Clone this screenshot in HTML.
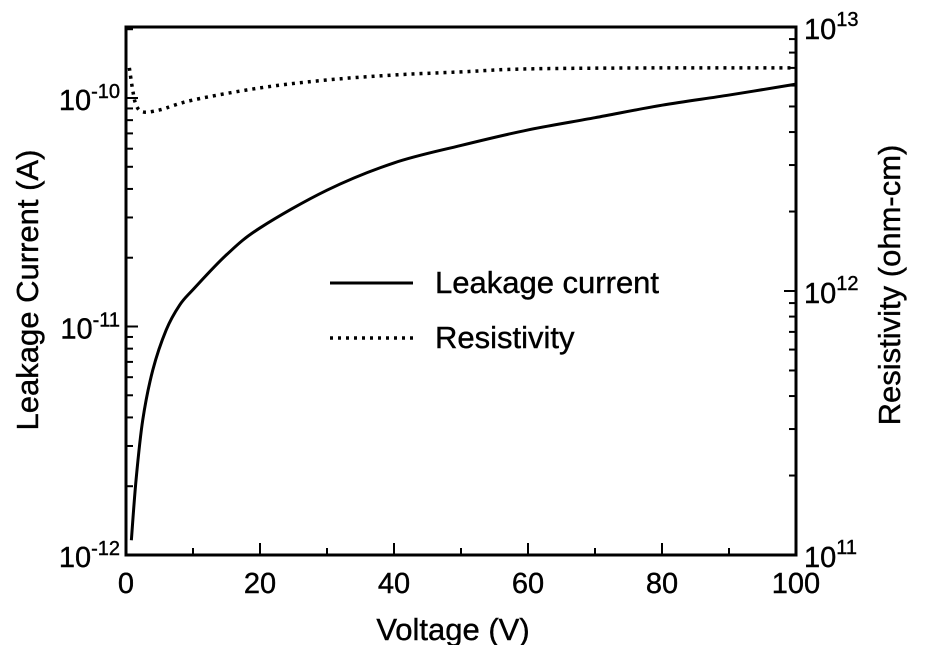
<!DOCTYPE html>
<html><head><meta charset="utf-8"><style>
body{margin:0;background:#fff}
svg{display:block;font-family:"Liberation Sans",Arial,sans-serif}
</style></head><body>
<svg id="chart" width="949" height="645">
<g id="marks"></g>
<g id="axes" stroke="#000" stroke-width="3" fill="none"></g>
<g id="labels" font-size="29" fill="#000" stroke="#000" stroke-width="0.4"></g>
</svg>
<script>
const voltage=[0.8,1.5,2.5,4,6,8,10,15,20,30,40,50,60,70,80,90,100];
const leakage=[1.16e-12,2.13e-12,3.9e-12,6.45e-12,9.66e-12,1.24e-11,1.45e-11,2.06e-11,2.7e-11,3.95e-11,5.2e-11,6.2e-11,7.25e-11,8.2e-11,9.3e-11,1.03e-10,1.15e-10];
const resVoltage=[0.5,1,1.5,2.5,5,10,20,30,40,50,60,80,100];
const resistivity=[7.0e12,5.77e12,5.07e12,4.77e12,4.85e12,5.29e12,5.88e12,6.3e12,6.58e12,6.76e12,6.94e12,7.0e12,7.0e12];
const xTicks=[0,20,40,60,80,100];
const leftTicks=[-12,-11,-10];
const rightTicks=[11,12,13];

const L=126,R=796,T=27,B=555;
const x=v=>L+(v/100)*(R-L);
const yL=a=>98-(Math.log10(a)+10)*228.5;
const yR=r=>B-(Math.log10(r)-11)*(B-T)/2;
const NS="http://www.w3.org/2000/svg";
function mk(tag,parent,attrs){const e=document.createElementNS(NS,tag);for(const k in attrs)e.setAttribute(k,attrs[k]);parent.appendChild(e);return e;}
function smooth(pts){let d='M'+pts[0][0]+','+pts[0][1];for(let i=0;i<pts.length-1;i++){const p0=pts[Math.max(0,i-1)],p1=pts[i],p2=pts[i+1],p3=pts[Math.min(pts.length-1,i+2)];
const c1=[p1[0]+(p2[0]-p0[0])/6,p1[1]+(p2[1]-p0[1])/6],c2=[p2[0]-(p3[0]-p1[0])/6,p2[1]-(p3[1]-p1[1])/6];
d+='C'+c1[0]+','+c1[1]+' '+c2[0]+','+c2[1]+' '+p2[0]+','+p2[1];}return d;}
const marks=document.getElementById('marks'),axes=document.getElementById('axes'),labels=document.getElementById('labels');

const lp=mk('path',marks,{d:smooth(voltage.map((v,i)=>[x(v),yL(leakage[i])])),stroke:'#000','stroke-width':3,fill:'none'});


const rp=mk('path',marks,{d:smooth(resVoltage.map((v,i)=>[x(v),yR(resistivity[i])])),stroke:'#000','stroke-width':3.5,fill:'none','stroke-dasharray':'3,5'});



const frame=mk('rect',axes,{x:L,y:T,width:R-L,height:B-T});


for(let v=0;v<=100;v+=10){const len=v%20===0?12:7;mk('line',axes,{x1:x(v),x2:x(v),y1:B,y2:B-len,'stroke-width':2});}
xTicks.forEach(v=>{const t=mk('text',labels,{x:x(v),y:B+38,'text-anchor':'middle'});t.textContent=v;

});
for(let d=-12;d<-9;d++){for(let m=1;m<10;m++){const a=m*Math.pow(10,d);const yy=yL(a);if(yy<T)continue;mk('line',axes,{x1:L,x2:L+(m===1?12:7),y1:yy,y2:yy,'stroke-width':2});}}
leftTicks.forEach(e=>{const t=mk('text',labels,{x:L-6,y:yL(Math.pow(10,e))+12,'text-anchor':'end'});t.innerHTML='10<tspan dy="-12" font-size="20">'+e+'</tspan>';

});
for(let d=11;d<13;d++){for(let m=1;m<=10;m++){const yy=yR(m*Math.pow(10,d));mk('line',axes,{x1:R,x2:R-(m===1||m===10?12:7),y1:yy,y2:yy,'stroke-width':2});}}
rightTicks.forEach(e=>{const t=mk('text',labels,{x:R+8,y:yR(Math.pow(10,e))+12,'text-anchor':'start'});t.innerHTML='10<tspan dy="-13" font-size="20">'+e+'</tspan>';

});
</script>
<svg style="position:absolute;left:0;top:0" width="949" height="645" font-family="Liberation Sans,Arial,sans-serif" font-size="31" stroke="#000" stroke-width="0.4">
<text x="453" y="640" text-anchor="middle">Voltage (V)</text>
<text transform="translate(38,290) rotate(-90)" text-anchor="middle">Leakage Current (A)</text>
<text transform="translate(900,285) rotate(-90)" text-anchor="middle">Resistivity (ohm-cm)</text>
<g>
<line x1="330" x2="413" y1="283" y2="283" stroke="#000" stroke-width="3"/>
<text x="435" y="293">Leakage current</text>
<line x1="330" x2="413" y1="338" y2="338" stroke="#000" stroke-width="3.5" stroke-dasharray="3,5"/>
<text x="435" y="348">Resistivity</text>
</g>
</svg>
</body></html>
